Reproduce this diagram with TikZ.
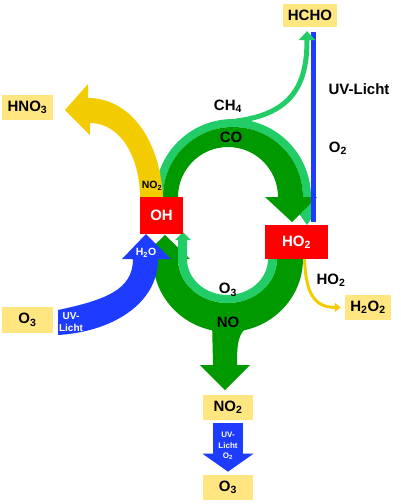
\documentclass[tikz,border=0pt]{standalone}
\usepackage{fontspec}
\setmainfont{Liberation Sans}
\usetikzlibrary{arrows.meta,positioning}
\definecolor{boxyellow}{RGB}{255,230,128}
\definecolor{arrowyellow}{RGB}{242,204,0}
\definecolor{radred}{RGB}{255,0,0}
\definecolor{uvblue}{RGB}{30,60,255}
\definecolor{darkgreen}{RGB}{0,153,0}
\definecolor{lightgreen}{RGB}{34,204,102}
\newcommand{\lo}[1]{\textsubscript{#1}}

\begin{document}
\begin{tikzpicture}[x=1pt,y=-1pt,
  specbox/.style={fill=boxyellow,inner sep=0pt,minimum height=25pt,font=\bfseries\fontsize{15}{17}\selectfont},
  radbox/.style={fill=radred,text=white,inner sep=0pt,font=\bfseries\fontsize{15}{17}\selectfont},
  biglbl/.style={inner sep=0pt,font=\bfseries\fontsize{15}{17}\selectfont},
  smalllbl/.style={inner sep=0pt,align=center,font=\bfseries\fontsize{10.5}{11.5}\selectfont}]
\useasboundingbox (0,0) rectangle (400,504);

% CO cycle, upper half
\fill[lightgreen] (155,197) arc[start angle=180,end angle=360,radius=78] -- (311,212) -- (316,212) -- (307,225) -- (298,212) -- (303,212) -- (303,197) arc[start angle=360,end angle=180,radius=70] -- cycle;
\fill[darkgreen] (163,197) arc[start angle=180,end angle=360,radius=70] -- (317,197) -- (292,222) -- (265,197) -- (278,197) arc[start angle=360,end angle=180,radius=50] -- cycle;
\fill[arrowyellow] (163,197) .. controls (160,140) and (130,98) .. (88,98) -- (88,84) -- (65,110) -- (90,135) -- (90,123) .. controls (122,123) and (140,160) .. (140,197) -- cycle;

% NO cycle, lower half
\fill[darkgreen] (303,259) arc[start angle=0,end angle=180,x radius=75,y radius=73] -- (140,259) -- (165,235) -- (190,259) -- (178,259) arc[start angle=180,end angle=0,x radius=49.5,y radius=44] -- cycle;
\fill[darkgreen] (212,320) -- (213,365) -- (200,365) -- (225,390) -- (250,365) -- (237,365) .. controls (237,345) and (238,335) .. (246,328) -- cycle;
\fill[lightgreen] (277,259) arc[start angle=0,end angle=180,x radius=49.5,y radius=44] -- (178,240) -- (175,240) -- (183,232) -- (191,240) -- (187,240) -- (187,259) arc[start angle=180,end angle=0,x radius=40.5,y radius=36] -- cycle;
\fill[uvblue] (58,310) .. controls (105,300) and (133,290) .. (133,259) -- (122,259) -- (146,234) -- (171,259) -- (158,259) .. controls (158,305) and (110,332) .. (58,335) -- cycle;

\node[specbox,minimum width=54pt,minimum height=23pt](hcho) at (310,15.5){HCHO};
\node[specbox,minimum width=51pt](hno3) at (27.5,107.5){HNO\lo3};
\node[radbox,minimum width=43pt,minimum height=37pt](oh) at (161.5,215.5){OH};
\node[radbox,minimum width=63pt,minimum height=34pt](ho2) at (296.5,242){HO\lo2};
\node[specbox,minimum width=51pt,minimum height=26pt](o3l) at (27.5,320){O\lo3};
\node[specbox,minimum width=46pt](h2o2) at (368,307.5){H\lo2O\lo2};
\node[specbox,minimum width=50pt](no2) at (228,407){NO\lo2};
\node[specbox,minimum width=50pt](o3b)[below=55pt of no2]{O\lo3};

\coordinate (ch4) at (236,121);
\draw[uvblue,line width=5pt] ([xshift=3pt,yshift=-5pt]hcho.south) -- ([xshift=16.5pt,yshift=3pt]ho2.north);
\draw[lightgreen,line width=5pt,-{Triangle[width=17pt,length=9pt,line width=0pt]}] (ch4) .. controls (292,114) and (307,85) .. ([xshift=-3pt,yshift=-4pt]hcho.south);
\draw[arrowyellow,line width=3pt,-{Triangle[width=9pt,length=6pt,line width=0pt]}] ([xshift=8pt]ho2.south) .. controls (306,295) and (315,307) .. ([xshift=-4pt]h2o2.west);
\draw[uvblue,line width=30pt,-{Triangle[width=51pt,length=18pt,line width=0pt]}] ([yshift=-3pt]no2.south) -- ([yshift=3pt]o3b.north);

\node[biglbl](luv) at (359,89){UV-Licht};
\node[biglbl](lo2) at (338,148){O\lo2};
\node[biglbl](lch4) at (228,106){CH\lo4};
\node[biglbl](lco) at (231,137){CO};
\node[smalllbl](lno2) at (152,186){NO\lo2};
\node[smalllbl,text=white](lh2o) at (146,253){H\lo2O};
\node[biglbl](lo3) at (228,290){O\lo3};
\node[biglbl](lno) at (228,322){NO};
\node[biglbl](lho2) at (331,280){HO\lo2};
\node[smalllbl,text=white,font=\bfseries\fontsize{10}{11.5}\selectfont](luvl) at (71,322){UV-\\Licht};
\node[smalllbl,text=white,font=\bfseries\fontsize{8}{10.5}\selectfont](luvb) at (228,446){UV-\\Licht\\O\lo2};

\end{tikzpicture}
\end{document}
